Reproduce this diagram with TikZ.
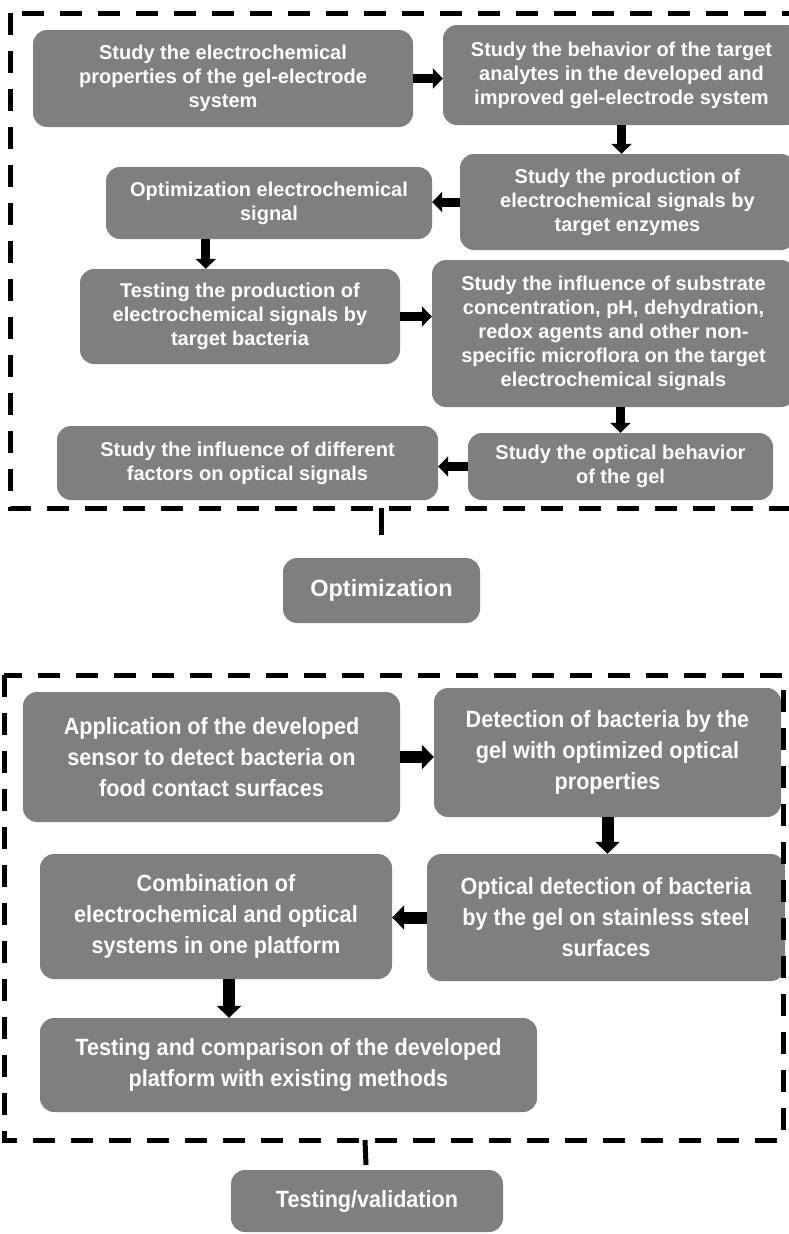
\documentclass[tikz,border=0pt]{standalone}
\usepackage{fontspec}
\newfontfamily\topf{Liberation Sans}
\newfontfamily\botf[FakeStretch=0.92]{Liberation Sans}
\usetikzlibrary{arrows.meta}
\definecolor{boxgray}{RGB}{127,127,127}
\begin{document}
\begin{tikzpicture}[x=1pt,y=-1pt,
  box/.style={rounded corners=14pt, fill=boxgray, text=white, align=center, inner sep=0pt},
  tbox/.style={box, font=\topf\bfseries\fontsize{20}{24}\selectfont},
  bbox/.style={box, font=\botf\bfseries\fontsize{23.5}{31}\selectfont},
  arrT/.style={line width=9pt, -{Triangle[length=10pt,width=20pt]}},
  arrB/.style={line width=12pt, -{Triangle[length=12pt,width=24pt]}},
  frame/.style={line width=5pt, dash pattern=on 22pt off 16pt},
  tick/.style={line width=5pt}]
\useasboundingbox (0,0) rectangle (789,1234);
\clip (0,0) rectangle (789,1234);

% ---------- top section ----------
\node[tbox, minimum width=380pt, minimum height=97pt] (b1) at (223,78.5)
  {Study the electrochemical\\properties of the gel-electrode\\system};
\node[tbox, minimum width=357pt, minimum height=100pt] (b2) at (621.5,75)
  {Study the behavior of the target\\analytes in the developed and\\improved gel-electrode system};
\node[tbox, minimum width=335pt, minimum height=96pt] (b3) at (627.5,202)
  {Study the production of\\electrochemical signals by\\target enzymes};
\node[tbox, minimum width=326pt, minimum height=72pt] (b4) at (269,203)
  {Optimization electrochemical\\signal};
\node[tbox, minimum width=320pt, minimum height=95pt] (b5) at (240,316.5)
  {Testing the production of\\electrochemical signals by\\target bacteria};
\node[tbox, minimum width=363pt, minimum height=147pt] (b6) at (613.5,333.5)
  {Study the influence of substrate\\concentration, pH, dehydration,\\redox agents and other non-\\specific microflora on the target\\electrochemical signals};
\node[tbox, minimum width=305pt, minimum height=67pt] (b7) at (620.5,466.5)
  {Study the optical behavior\\of the gel};
\node[tbox, minimum width=381pt, minimum height=74pt] (b8) at (247.5,463)
  {Study the influence of different\\factors on optical signals};

\draw[arrT] (b1.east) -- (b1.east -| b2.west);
\draw[arrT] (b2.south) -- (b2.south |- b3.north);
\draw[arrT] (b3.west) -- (b3.west -| b4.east);
\draw[arrT] ([xshift=100pt]b4.south west) -- ([xshift=100pt]b4.south west |- b5.north);
\draw[arrT] (b5.east) -- (b5.east -| b6.west);
\draw[arrT] (b7.north |- b6.south) -- (b7.north);
\draw[arrT] (b7.west) -- (b7.west -| b8.east);

\draw[frame] (10,13) rectangle (805,508);
\coordinate (t1a) at (381,508);
\coordinate (t1b) at (381,535);
\draw[tick] (t1a) -- (t1b);

\node[box, font=\topf\bfseries\fontsize{23.5}{28}\selectfont,
  minimum width=197pt, minimum height=65pt] (opt) at (381.5,590.5) {Optimization};

% ---------- bottom section ----------
\node[bbox, minimum width=377pt, minimum height=130pt] (A) at (211.5,757)
  {Application of the developed\\sensor to detect bacteria on\\food contact surfaces};
\node[bbox, minimum width=347pt, minimum height=129pt] (B) at (607.5,752.5)
  {Detection of bacteria by the\\gel with optimized optical\\properties};
\node[bbox, minimum width=352pt, minimum height=125pt] (C) at (216,916.5)
  {Combination of\\electrochemical and optical\\systems in one platform};
\node[bbox, minimum width=358pt, minimum height=127pt] (D) at (606,917.5)
  {Optical detection of bacteria\\by the gel on stainless steel\\surfaces};
\node[bbox, minimum width=497pt, minimum height=94pt] (E) at (288.5,1065)
  {Testing and comparison of the developed\\platform with existing methods};

\draw[arrB] (A.east) -- (A.east -| B.west);
\draw[arrB] (B.south) -- (B.south |- D.north);
\draw[arrB] (D.west) -- (D.west -| C.east);
\draw[arrB] ([xshift=13pt]C.south) -- ([xshift=13pt]C.south |- E.north);

\draw[frame] (4,675) rectangle (783,1140);
\coordinate (t2a) at (365,1140);
\coordinate (t2b) at (366,1165);
\draw[tick] (t2a) -- (t2b);

\node[bbox, minimum width=272pt, minimum height=62pt] (tv) at (367,1201) {Testing/validation};
\end{tikzpicture}
\end{document}
